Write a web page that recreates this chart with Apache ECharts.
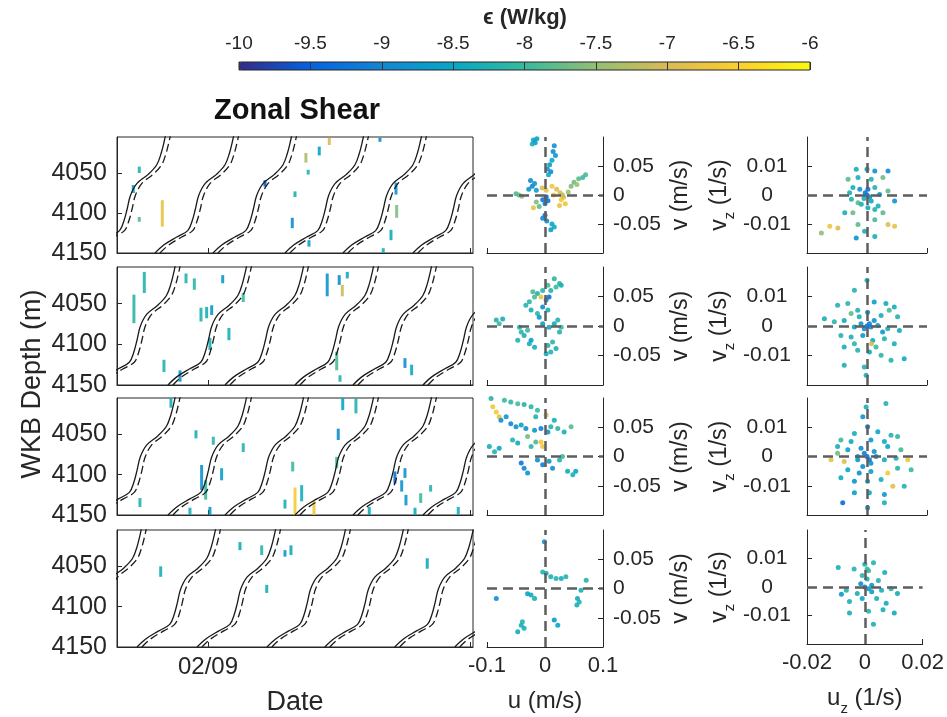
<!DOCTYPE html>
<html><head><meta charset="utf-8">
<script src="https://cdn.jsdelivr.net/npm/echarts@6/dist/echarts.min.js"></script>
<style>html,body{margin:0;padding:0;background:#fff}#c{width:947px;height:717px}</style>
</head><body><div id="c"></div>
<script>
// ---------- tick labels ----------
const epsTicks = [-10,-9.5,-9,-8.5,-8,-7.5,-7,-6.5,-6];
const depthTicks = [4050, 4100, 4150];
const dateTicks = [0, 24];            // hours since 02/09 00:00
const dateTickLabels = ['02/09'];      // label only at 0
const uTicks = [-0.1, 0, 0.1];
const vTicks = [-0.05, 0, 0.05];
const uzTicks = [-0.02, 0, 0.02];
const vzTicks = [-0.01, 0, 0.01];

// ---------- WKB ray path shape (hours after bottom crossing, depth m) ----------
const rayDt    = [0, 0.8, 2.0, 3.0, 3.4, 3.7, 4.0, 4.6, 5.6, 6.4, 6.8, 7.1, 7.25];
const rayDepth = [4150, 4140, 4130, 4122, 4110, 4095, 4078, 4063, 4052, 4040, 4026, 4010, 4000];
const rayShift = 0.45; // dashed companion offset (h)
// bottom crossing times of ray paths per row (hours since 02/09)
const rayStart1 = [-11.1, -4.85, 0.46, 7.05, 12.36, 18.77];
const rayStart2 = [-10.2, -3.66, 1.56, 7.97, 13.28, 19.69];
const rayStart3 = [-10.2, -3.66, 1.56, 7.97, 13.28, 19.69];
const rayStart4 = [-13.3, -6.5, -1.0, 5.4, 10.7, 17.1, 22.6];

// ---------- dissipation patches: [hour, top depth, bottom depth, log10 eps] ----------
const eps1 = [[-6.29,4042,4050,-8.2],[-6.84,4065,4075,-8.6],[-6.29,4105,4111,-7.8],[-4.18,4084,4117,-6.8],
  [5.22,4059,4067,-9.5],[8.97,4025,4037,-7.3],[11.11,4006,4015,-7.0],[10.19,4017,4028,-8.6],[9.18,4046,4052,-8.2],
  [7.97,4073,4080,-8.3],[7.72,4106,4119,-8.9],[9.25,4134,4142,-8.6],[15.75,4006,4011,-8.9],[17.22,4062,4077,-8.8],
  [17.28,4090,4106,-7.6],[16.76,4121,4134,-8.4],[16.05,4144,4150,-8.3]];
const eps2 = [[-5.83,4011,4037,-8.2],[-6.78,4039,4074,-8.1],[-2.01,4013,4025,-8.2],[-1.25,4019,4033,-8.1],
  [1.35,4015,4025,-8.7],[-0.64,4055,4072,-8.2],[-0.12,4054,4068,-8.3],[0.34,4052,4064,-8.7],[0.18,4092,4107,-8.3],
  [1.92,4080,4095,-8.3],[-4.03,4119,4134,-8.2],[-2.56,4132,4146,-8.8],[3.23,4037,4048,-8.0],[10.92,4013,4041,-8.8],
  [12.02,4015,4027,-8.9],[12.76,4011,4019,-8.4],[12.30,4027,4041,-7.1],[11.79,4109,4132,-7.9],[12.09,4138,4146,-8.2],
  [18.04,4117,4129,-8.9],[18.65,4125,4138,-8.4]];
const eps3 = [[-3.39,4005,4017,-8.3],[-1.10,4045,4055,-8.3],[0.49,4053,4063,-8.1],[3.23,4061,4072,-8.2],
  [-0.58,4088,4119,-8.8],[-0.21,4107,4131,-8.0],[1.25,4092,4107,-8.6],[-6.23,4129,4140,-8.2],[-1.65,4141,4150,-8.3],
  [0.18,4140,4150,-8.7],[7.76,4084,4096,-8.0],[7.97,4116,4150,-6.6],[8.58,4113,4133,-8.3],[7.05,4131,4142,-8.3],
  [9.71,4133,4150,-6.7],[12.34,4005,4020,-8.5],[13.55,4005,4024,-8.2],[11.93,4043,4057,-8.9],[11.79,4078,4092,-8.0],
  [17.12,4096,4111,-9.3],[18.04,4092,4104,-8.8],[17.74,4107,4121,-8.8],[18.13,4125,4138,-8.7],[19.48,4123,4135,-8.0],
  [20.39,4113,4121,-8.2],[14.77,4140,4150,-8.4],[18.96,4141,4150,-8.4],[22.92,4140,4150,-8.3]];
const eps4 = [[-4.33,4050,4063,-8.3],[2.93,4020,4030,-8.4],[4.92,4024,4036,-8.1],[7.05,4030,4038,-8.8],
  [7.60,4024,4036,-8.4],[5.38,4073,4083,-8.3],[20.08,4040,4053,-8.4]];

// ---------- velocity scatter: [u, v, log10 eps] ----------
const uv1 = [[-0.02,0.095,-8.5],[-0.017,0.09,-8.7],[-0.014,0.097,-8.6],[-0.022,0.088,-8.3],[0.016,0.085,-8.8],
  [0.014,0.075,-8.9],[0.018,0.068,-8.7],[0.012,0.06,-8.5],[0.008,0.052,-8.6],[0.004,0.045,-8.8],[0.01,0.04,-9.0],
  [0.006,0.035,-8.4],[0.07,0.035,-7.9],[0.065,0.03,-8.0],[0.058,0.028,-7.8],[0.05,0.022,-7.7],[0.045,0.015,-7.6],
  [0.055,0.018,-7.4],[-0.025,0.025,-8.9],[-0.022,0.015,-9.0],[-0.018,0.02,-8.8],[-0.028,0.01,-8.7],[-0.015,0.008,-8.6],
  [-0.045,0.0,-7.7],[-0.04,-0.002,-7.5],[-0.05,0.002,-7.9],[-0.005,0.012,-6.9],[0.002,0.008,-6.8],[0.012,0.015,-6.7],
  [0.02,0.01,-6.9],[0.026,0.004,-7.0],[0.015,0.0,-6.6],[0.028,-0.008,-6.6],[0.035,-0.015,-6.7],[0.025,-0.018,-6.8],
  [0.032,-0.004,-6.9],[0.005,-0.01,-9.3],[0.0,-0.015,-9.1],[-0.004,-0.008,-9.2],[0.002,-0.003,-9.4],[-0.01,-0.02,-7.8],
  [-0.015,-0.012,-7.6],[-0.02,-0.022,-6.8],[0.0,-0.035,-9.3],[-0.004,-0.04,-9.0],[0.003,-0.045,-8.9],[0.012,-0.05,-8.5],
  [0.016,-0.055,-8.4],[0.01,-0.06,-8.6],[0.03,0.0,-7.2],[0.04,0.005,-7.4]];
const uv2 = [[0.025,0.072,-8.1],[0.019,0.066,-8.0],[0.010,0.060,-8.2],[0.005,0.069,-7.9],[-0.004,0.060,-8.1],
  [-0.013,0.055,-8.2],[-0.018,0.049,-7.9],[-0.027,0.041,-8.1],[-0.033,0.035,-8.2],[-0.024,0.027,-8.3],[-0.013,0.021,-8.1],
  [0.002,0.044,-8.8],[-0.004,0.032,-8.9],[-0.010,0.015,-8.7],[0.007,0.049,-9.3],[0.005,0.027,-8.3],[0.022,0.010,-8.2],
  [0.028,-0.002,-8.0],[0.025,-0.010,-8.2],[0.016,0.004,-8.4],[-0.084,0.010,-8.2],[-0.079,0.004,-8.0],[-0.073,0.012,-8.3],
  [-0.044,-0.002,-8.2],[-0.041,-0.010,-8.1],[-0.036,-0.016,-8.3],[-0.030,-0.007,-8.0],[-0.024,-0.024,-8.6],
  [-0.027,-0.030,-8.3],[0.005,-0.033,-8.2],[0.013,-0.027,-8.1],[0.019,-0.038,-8.3],[0.010,-0.044,-8.2],[0.002,-0.047,-8.4],
  [-0.047,-0.024,-8.2],[-0.018,-0.036,-8.3],[-0.007,0.049,-6.8],[0.016,0.08,-8.1],[0.028,0.069,-8.3],[-0.021,0.058,-7.9],
  [-0.004,0.004,-8.6],[0.007,-0.002,-8.4]];
const uv3 = [[-0.090,0.085,-6.7],[-0.084,0.076,-6.6],[-0.079,0.068,-6.8],[-0.007,0.025,-6.6],[-0.004,0.017,-6.7],
  [0.002,0.071,-6.9],[-0.070,0.096,-8.0],[-0.059,0.093,-8.1],[-0.047,0.090,-7.9],[-0.036,0.089,-8.2],[-0.024,0.085,-8.1],
  [-0.013,0.079,-8.0],[-0.093,0.099,-8.2],[-0.076,0.062,-8.9],[-0.067,0.068,-8.7],[-0.059,0.056,-9.0],[-0.050,0.051,-8.8],
  [-0.041,0.054,-8.6],[-0.033,0.048,-8.9],[-0.018,0.045,-8.7],[-0.007,0.048,-9.1],[0.005,0.042,-8.8],[0.010,0.051,-8.2],
  [0.022,0.048,-8.1],[0.033,0.042,-8.3],[0.045,0.051,-7.8],[0.016,0.062,-8.3],[-0.016,0.068,-8.2],[-0.096,0.017,-8.3],
  [-0.087,0.008,-8.2],[-0.079,0.014,-8.5],[-0.056,0.028,-8.2],[-0.047,0.023,-8.4],[-0.024,0.017,-8.1],[-0.030,0.034,-7.7],
  [-0.016,0.025,-7.9],[-0.041,-0.011,-9.2],[-0.036,-0.020,-9.0],[-0.030,-0.028,-8.8],[-0.013,-0.006,-8.9],
  [-0.004,-0.014,-9.1],[0.007,-0.008,-8.7],[0.013,-0.020,-8.9],[0.039,-0.025,-8.4],[0.048,-0.031,-8.3],[0.053,-0.025,-8.5],
  [0.025,-0.006,-8.2],[0.030,0.000,-8.0]];
const uv4 = [[-0.001,0.08,-8.8],[-0.004,0.028,-8.2],[0.002,0.026,-8.3],[0.01,0.02,-8.3],[0.019,0.017,-8.2],
  [0.028,0.017,-8.3],[0.036,0.02,-8.2],[0.071,0.014,-8.2],[0.062,-0.003,-8.3],[0.056,-0.017,-8.4],[0.055,-0.028,-8.3],
  [0.059,-0.023,-8.2],[-0.084,-0.017,-8.9],[-0.03,-0.009,-8.6],[-0.024,-0.011,-8.4],[-0.018,-0.017,-8.3],[0.016,-0.054,-8.7],
  [0.022,-0.063,-8.5],[-0.041,-0.063,-8.3],[-0.047,-0.074,-8.4],[-0.039,-0.057,-8.2],[-0.036,-0.068,-8.3]];

// ---------- shear scatter: [u_z, v_z, log10 eps] ----------
const sh1 = [[-0.0036,0.0089,-8.3],[0,0.0089,-8.6],[0.0026,0.0083,-8.8],[0.007,0.0083,-8.9],[-0.0063,0.0054,-7.8],
  [-0.003,0.006,-8.3],[0.0014,0.0054,-8.2],[0.0053,0.006,-7.7],[-0.0047,0.0026,-8.3],[-0.0024,0.002,-8.8],[0.0026,0.0026,-8.2],
  [0.007,0.0014,-7.8],[0.0092,-0.0021,-8.8],[-0.0052,-0.0015,-8.2],[-0.003,-0.0027,-7.8],[-0.0074,-0.0061,-8.3],
  [-0.0047,-0.0061,-7.7],[0.0003,-0.0044,-8.4],[0.0037,-0.0038,-8.3],[0.0053,-0.0061,-7.8],[0.0026,-0.0085,-7.9],
  [0.007,-0.0102,-6.9],[0.0092,-0.0108,-6.8],[-0.0097,-0.0114,-6.9],[-0.0124,-0.0108,-6.7],[-0.0152,-0.0131,-7.5],
  [-0.003,-0.0102,-7.8],[-0.0036,-0.0148,-8.8],[0.0026,-0.0143,-8.3],[-0.0008,-0.0125,-8.3],[0,0,-9.3],[-0.0006,0.0008,-9.2],
  [0.0009,-0.0007,-8.9],[-0.001,-0.0012,-8.3],[0.0003,0.002,-9.3],[0.0014,-0.0021,-8.4],[-0.0019,-0.0032,-8.3],
  [0.0042,0.0002,-8.8],[0.0026,-0.005,-8.2],[-0.0058,0.0008,-8.3]];
const sh2 = [[0,0.0155,-8.3],[-0.0042,0.0121,-8.2],[0.0063,0.0076,-8.4],[-0.0098,0.007,-8.2],[-0.0064,0.0076,-8.1],
  [0.0024,0.0081,-8.6],[0.0091,0.0064,-8.3],[-0.0031,0.0053,-8.2],[0.0002,0.0047,-8.7],[0.0047,0.0036,-8.3],
  [0.0102,0.0031,-8.2],[-0.0142,0.0025,-8.3],[-0.0109,0.0014,-8.1],[-0.0076,0.0019,-8.4],[-0.0042,-0.0003,-8.6],
  [-0.002,0.0008,-8.8],[0.0013,-0.0003,-8.9],[0.0036,0.0002,-8.5],[0.0069,-0.0009,-8.3],[0.0108,-0.0015,-8.4],
  [-0.0087,-0.0032,-8.2],[-0.0053,-0.0037,-8.3],[-0.0014,-0.0032,-8.7],[0.0019,-0.0049,-8.4],[0.0058,-0.0043,-8.2],
  [0.0091,-0.006,-8.3],[-0.0076,-0.0071,-8.3],[-0.0031,-0.0082,-8.2],[0.0008,-0.0088,-8.5],[0.0047,-0.0099,-8.1],
  [0.008,-0.0116,-8.2],[0.0124,-0.0111,-8.4],[-0.0076,-0.0133,-8.3],[-0.0009,-0.0139,-8.2],[-0.0003,-0.0167,-8.3],
  [0.003,-0.0071,-8.0],[-0.0042,-0.006,-8.1],[0,0,-9.3],[0.0008,0.0008,-9.1],[-0.0009,-0.0009,-8.9],[0.0024,0.0019,-8.8],
  [-0.0026,0.0031,-8.3],[0.0052,-0.002,-8.7],[0.0074,0.0053,-7.9],[-0.0053,0.0042,-7.8],[0.0015,-0.006,-7.0]];
const sh3 = [[-0.0003,0.0169,-8.3],[0.0063,0.0181,-8.2],[-0.0014,0.0136,-8.8],[0.0002,0.0102,-9.2],[-0.0042,0.0079,-8.3],
  [0.0036,0.0085,-8.5],[0.008,0.0073,-8.2],[-0.0087,0.0056,-8.0],[-0.0053,0.0051,-8.4],[0.0013,0.0056,-8.7],
  [0.0058,0.0051,-8.4],[0.0102,0.0068,-8.1],[-0.0098,0.0034,-8.3],[-0.0064,0.0023,-8.6],[-0.002,0.0028,-8.9],
  [0.0024,0.0017,-8.8],[0.0069,0.0034,-8.5],[0.0113,0.0023,-8.0],[-0.012,-0.0011,-6.8],[-0.0076,-0.0017,-6.9],
  [-0.0031,-0.0011,-8.7],[0.0013,-0.0023,-8.8],[0.0058,-0.0011,-8.4],[0.0097,-0.0006,-8.3],[0.0136,-0.0011,-6.7],
  [-0.0064,-0.0045,-8.5],[-0.0026,-0.0056,-8.9],[0.0013,-0.0051,-8.6],[0.0069,-0.0056,-6.6],[0.0102,-0.004,-8.2],
  [-0.0087,-0.0073,-8.4],[-0.0042,-0.0085,-8.8],[0.0002,-0.0085,-8.5],[0.0047,-0.0079,-8.3],[0.0086,-0.0102,-6.9],
  [0.0124,-0.0102,-8.2],[0.0147,-0.0045,-8.0],[-0.0042,-0.0124,-8.6],[0.0008,-0.0124,-8.4],[0.0058,-0.013,-8.7],
  [-0.0081,-0.0158,-9.4],[0.0002,-0.0175,-8.8],[0.0058,-0.0158,-8.3],[0,0,-9.3],[-0.0009,0.0011,-9.1],[0.0008,-0.0011,-9.2],
  [0.003,0,-8.8],[-0.0031,0,-8.5],[-0.0098,0.0011,-7.7],[-0.0014,-0.0034,-8.9]];
const sh4 = [[0,0.008,-8.3],[0.003,0.0085,-8.2],[-0.0092,0.0068,-8.3],[-0.0037,0.0063,-8.2],[0.0013,0.0057,-8.0],
  [-0.0009,0.004,-8.1],[0.0008,0.0028,-8.3],[0.0047,0.0023,-8.2],[0.0069,0.0051,-8.3],[-0.0014,0.0011,-8.9],[0,0,-9.0],
  [0.0013,-0.0006,-8.7],[-0.0064,-0.0011,-8.2],[-0.0081,-0.0025,-8.7],[-0.0026,-0.0023,-8.3],[0.0024,-0.0017,-8.6],
  [0.0058,-0.0011,-8.3],[0.0091,-0.0006,-8.2],[0.0113,-0.0023,-8.4],[-0.0053,-0.0051,-8.3],[-0.0009,-0.004,-8.5],
  [0.0041,-0.004,-8.3],[0.0074,-0.0057,-8.4],[-0.0053,-0.0091,-8.3],[0.0013,-0.0085,-8.2],[0.0063,-0.008,-8.3],
  [0.0102,-0.0091,-8.4],[0.003,-0.0131,-8.3],[0.0008,0.0063,-8.0],[0.0024,0.0006,-8.7]];

// ---------- assembly ----------
const FONT = '"Liberation Sans", Arial, Helvetica, sans-serif';
const TXT = '#262626';
const parula = ['#352a87','#0363e1','#1485d4','#06a7c6','#38b99e','#92bf73','#d9ba56','#fcce2e','#f9fb0e'];
const rowTop = [137, 267, 398, 530];
const rowH = [116, 118, 117, 117];
const colLeft = [117, 487, 807];
const colW = [356, 116, 120];
const rayStarts = [rayStart1, rayStart2, rayStart3, rayStart4];
const epsRows = [eps1, eps2, eps3, eps4];
const uvRows = [uv1, uv2, uv3, uv4];
const shRows = [sh1, sh2, sh3, sh4];

function rays(starts, shift) {
  const out = [];
  starts.forEach(s => {
    rayDt.forEach((dt, i) => out.push([s + shift + dt, rayDepth[i]]));
    out.push(null);
  });
  return out;
}

const grids = [], xAxes = [], yAxes = [], series = [];
const scatterIdx = [], patchIdx = [];
const lab = (size) => ({color: TXT, fontFamily: FONT, fontSize: size});
const axLine = {show: true, onZero: false, lineStyle: {color: TXT, width: 1}};
const tick = (vals) => ({show: true, inside: true, length: 5, customValues: vals, lineStyle: {color: TXT}});
const zeroLines = {silent: true, symbol: ['none', 'none'], label: {show: false}, animation: false,
  lineStyle: {color: '#5e5e5e', width: 2.5, type: [10, 6], opacity: 1},
  emphasis: {disabled: true}, data: [{xAxis: 0}, {yAxis: 0}]};

for (let r = 0; r < 4; r++) {
  const last = r === 3;
  // left: depth-time
  let gi = r * 3;
  grids.push({left: colLeft[0], top: rowTop[r], width: colW[0], height: rowH[r], show: true,
    borderColor: TXT, borderWidth: 1, backgroundColor: 'transparent'});
  xAxes.push({gridIndex: gi, type: 'value', min: -8.33, max: 24.27,
    axisLine: axLine, splitLine: {show: false}, axisTick: tick(dateTicks),
    axisLabel: {show: last, customValues: [0], margin: 8, ...lab(24),
      formatter: v => dateTickLabels[dateTicks.indexOf(v)] || ''},
    name: last ? 'Date' : '', nameLocation: 'middle', nameGap: 42, nameTextStyle: lab(27)});
  yAxes.push({gridIndex: gi, type: 'value', inverse: true, min: 4005, max: 4150,
    axisLine: axLine, splitLine: {show: false}, axisTick: tick(depthTicks),
    axisLabel: {customValues: depthTicks, margin: 10, ...lab(25), formatter: v => String(v)}});
  patchIdx.push(series.length);
  series.push({type: 'custom', xAxisIndex: gi, yAxisIndex: gi, clip: true, data: epsRows[r], z: 2,
    renderItem: (p, api) => {
      const a = api.coord([api.value(0), api.value(1)]);
      const b = api.coord([api.value(0), api.value(2)]);
      return {type: 'rect', shape: {x: a[0] - 1.5, y: a[1], width: 3, height: Math.max(2, b[1] - a[1])},
        style: {fill: api.visual('color'), opacity: 0.9}};
    }});
  series.push({type: 'line', xAxisIndex: gi, yAxisIndex: gi, data: rays(rayStarts[r], 0), showSymbol: false,
    smooth: 0.35, connectNulls: false, silent: true, z: 3, lineStyle: {color: '#1a1a1a', width: 1.3}});
  series.push({type: 'line', xAxisIndex: gi, yAxisIndex: gi, data: rays(rayStarts[r], rayShift), showSymbol: false,
    smooth: 0.35, connectNulls: false, silent: true, z: 3, lineStyle: {color: '#1a1a1a', width: 1.3, type: [8, 4]}});

  // middle: u-v
  gi = r * 3 + 1;
  grids.push({left: colLeft[1], top: rowTop[r], width: colW[1], height: rowH[r]});
  xAxes.push({gridIndex: gi, type: 'value', min: -0.1, max: 0.1, interval: 0.1,
    axisLine: axLine, splitLine: {show: false}, axisTick: tick(uTicks),
    axisLabel: {show: last, customValues: uTicks, margin: 8, ...lab(22)},
    name: last ? 'u (m/s)' : '', nameLocation: 'middle', nameGap: 42, nameTextStyle: lab(24)});
  yAxes.push({gridIndex: gi, type: 'value', position: 'right', min: -0.1, max: 0.1,
    axisLine: axLine, splitLine: {show: false}, axisTick: tick(vTicks),
    axisLabel: {customValues: vTicks, margin: 10, ...lab(21)},
    name: 'v (m/s)', nameLocation: 'middle', nameRotate: 90, nameGap: 66, nameTextStyle: lab(23)});
  scatterIdx.push(series.length);
  series.push({type: 'scatter', xAxisIndex: gi, yAxisIndex: gi, data: uvRows[r], symbolSize: 5,
    itemStyle: {opacity: 0.9}, markLine: zeroLines});

  // right: uz-vz
  gi = r * 3 + 2;
  grids.push({left: colLeft[2], top: rowTop[r], width: colW[2], height: rowH[r]});
  xAxes.push({gridIndex: gi, type: 'value', min: -0.02, max: 0.02, interval: 0.02,
    axisLine: axLine, splitLine: {show: false}, axisTick: tick(uzTicks),
    axisLabel: {show: last, customValues: uzTicks, margin: 8, ...lab(22)},
    name: last ? '{v|u}{s|z}{v| (1/s)}' : '', nameLocation: 'middle', nameGap: 42,
    nameTextStyle: {...lab(24), rich: {v: lab(24), s: {...lab(15), verticalAlign: 'bottom', padding: [0, 0, -6, 0]}}}});
  yAxes.push({gridIndex: gi, type: 'value', position: 'left', min: -0.02, max: 0.02,
    axisLine: axLine, splitLine: {show: false}, axisTick: tick(vzTicks),
    axisLabel: {customValues: vzTicks, margin: 40, align: 'center', ...lab(21)},
    name: '{v|v}{s|z}{v| (1/s)}', nameLocation: 'middle', nameRotate: 90, nameGap: 76,
    nameTextStyle: {...lab(23), rich: {v: lab(23), s: {...lab(15), verticalAlign: 'bottom', padding: [0, 0, -6, 0]}}}});
  scatterIdx.push(series.length);
  series.push({type: 'scatter', xAxisIndex: gi, yAxisIndex: gi, data: shRows[r], symbolSize: 5,
    itemStyle: {opacity: 0.9}, markLine: zeroLines});
}

// colorbar frame + ticks
grids.push({left: 239, top: 62, width: 571, height: 8, show: true, borderColor: TXT, borderWidth: 1, z: 10,
  backgroundColor: 'transparent'});
xAxes.push({gridIndex: 12, type: 'value', position: 'top', min: -10, max: -6, interval: 0.5, z: 10,
  axisLine: {show: false}, axisTick: {show: false},
  splitLine: {show: true, lineStyle: {color: '#333', width: 1}},
  axisLabel: {margin: 9, ...lab(19), customValues: epsTicks}});
yAxes.push({gridIndex: 12, type: 'value', show: false, min: 0, max: 1});

const option = {
  animation: false,
  backgroundColor: '#fff',
  textStyle: {fontFamily: FONT},
  grid: grids, xAxis: xAxes, yAxis: yAxes, series: series,
  visualMap: [
    {type: 'continuous', min: -10, max: -6, dimension: 2, seriesIndex: scatterIdx, orient: 'horizontal',
      left: 239, top: 62, itemWidth: 8, itemHeight: 571, padding: 0, calculable: false, hoverLink: false,
      inRange: {color: parula}, text: null, show: true},
    {type: 'continuous', min: -10, max: -6, dimension: 3, seriesIndex: patchIdx, show: false,
      inRange: {color: parula}}
  ],
  graphic: [
    {type: 'text', style: {text: 'ϵ (W/kg)', x: 525, y: 18, align: 'center',
      verticalAlign: 'middle', fill: TXT, font: 'bold 22px ' + FONT}},
    {type: 'text', style: {text: 'Zonal Shear', x: 297, y: 111, align: 'center', verticalAlign: 'middle',
      fill: '#111', font: 'bold 29px ' + FONT}},
    {type: 'text', rotation: Math.PI / 2, x: 33, y: 384, style: {text: 'WKB Depth (m)', x: 0, y: 0,
      align: 'center', verticalAlign: 'middle', fill: TXT, font: '27px ' + FONT}}
  ]
};
const chart = echarts.init(document.getElementById('c'), null, {renderer: 'canvas'});
chart.setOption(option);
</script></body></html>
